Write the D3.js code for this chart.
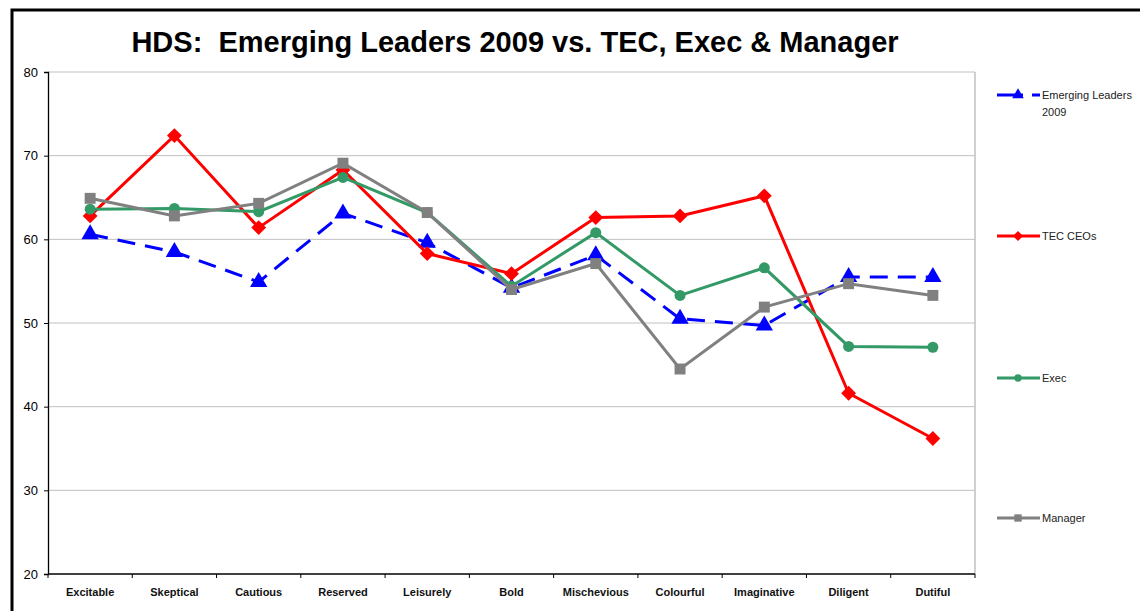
<!DOCTYPE html>
<html><head><meta charset="utf-8">
<script src="https://cdn.jsdelivr.net/npm/d3@7"></script>
<style>
body{margin:0;background:#fff;}
svg{display:block;font-family:"Liberation Sans",Arial,sans-serif;}
</style></head>
<body><svg id="c" width="1140" height="611"></svg>
<script>
const categories = ["Excitable","Skeptical","Cautious","Reserved","Leisurely","Bold","Mischevious","Colourful","Imaginative","Diligent","Dutiful"];
const emergingLeaders = [60.6,58.5,54.9,63.1,59.6,54.2,58.1,50.5,49.7,55.5,55.5];
const tecCEOs = [62.8,72.4,61.4,68.3,58.3,55.9,62.6,62.8,65.2,41.6,36.2];
const exec = [63.6,63.7,63.3,67.4,63.2,54.4,60.8,53.3,56.6,47.2,47.1];
const manager = [64.9,62.8,64.3,69.1,63.2,54.0,57.1,44.5,51.9,54.7,53.3];
const yTicks = [20,30,40,50,60,70,80];
const seriesNames = ["Emerging Leaders 2009","TEC CEOs","Exec","Manager"];

const svg = d3.select("#c");
svg.append("rect").attr("x",12).attr("y",10).attr("width",1140).attr("height",620)
  .attr("fill","none").attr("stroke","#000").attr("stroke-width",3);

const L=48, R=975, T=72, B=574;
const x = d3.scaleBand().domain(categories).range([L,R]);
const y = d3.scaleLinear().domain([20,80]).range([B,T]);

svg.append("g").selectAll("line").data(yTicks.filter(d=>d>20)).join("line")
  .attr("x1",L).attr("x2",R).attr("y1",d=>y(d)).attr("y2",d=>y(d))
  .attr("stroke","#c0c0c0").attr("stroke-width",1);
svg.append("line").attr("x1",R).attr("x2",R).attr("y1",T).attr("y2",B)
  .attr("stroke","#c0c0c0").attr("stroke-width",1.5);

const ya = svg.append("g").attr("transform",`translate(${L},0)`)
  .call(d3.axisLeft(y).tickValues(yTicks).tickSize(4).tickPadding(6));
ya.select(".domain").attr("stroke","#000").attr("stroke-width",1.3);
ya.selectAll("text").attr("font-size",13).attr("fill","#000").attr("font-family","Liberation Sans, Arial");

const xa = svg.append("g").attr("transform",`translate(0,${B})`)
  .call(d3.axisBottom(x).tickSize(0).tickPadding(14));
xa.select(".domain").remove();
svg.append("line").attr("x1",L).attr("x2",R).attr("y1",B).attr("y2",B).attr("stroke","#000").attr("stroke-width",1.3);
svg.append("g").selectAll("line").data(d3.range(categories.length+1)).join("line")
  .attr("x1",i=>L+i*x.step()).attr("x2",i=>L+i*x.step()).attr("y1",B).attr("y2",B+4)
  .attr("stroke","#000");
xa.selectAll("text").attr("font-size",11).attr("font-weight","bold").attr("fill","#111").attr("font-family","Liberation Sans, Arial");

svg.append("text").attr("x",515).attr("y",52).attr("text-anchor","middle")
  .attr("font-size",29).attr("font-weight","bold").attr("fill","#000")
  .style("white-space","pre")
  .text("HDS:  Emerging Leaders 2009 vs. TEC, Exec & Manager");

const diamond = {draw(ctx,size){const r=Math.sqrt(size/2);ctx.moveTo(0,-r);ctx.lineTo(r,0);ctx.lineTo(0,r);ctx.lineTo(-r,0);ctx.closePath();}};
const cx = d => x(d)+x.bandwidth()/2;
const series = [
  {name:seriesNames[0], vals:emergingLeaders, color:"#0000ff", dash:"18,10", sym:d3.symbolTriangle, size:130},
  {name:seriesNames[1], vals:tecCEOs, color:"#ff0000", dash:null, sym:diamond, size:110},
  {name:seriesNames[2], vals:exec, color:"#339966", dash:null, sym:d3.symbolCircle, size:95},
  {name:seriesNames[3], vals:manager, color:"#808080", dash:null, sym:d3.symbolSquare, size:120}
];
const line = d3.line().x((d,i)=>cx(categories[i])).y(d=>y(d));
series.forEach(s=>{
  svg.append("path").datum(s.vals).attr("d",line).attr("fill","none")
    .attr("stroke",s.color).attr("stroke-width",3).attr("stroke-dasharray",s.dash);
  svg.append("g").selectAll("path").data(s.vals).join("path")
    .attr("transform",(d,i)=>`translate(${cx(categories[i])},${y(d)})`)
    .attr("d",d3.symbol(s.sym,s.size)).attr("fill",s.color);
});

const legY = [95,236,378,518];
series.forEach((s,i)=>{
  const g = svg.append("g").attr("transform",`translate(997,${legY[i]})`);
  g.append("line").attr("x1",0).attr("x2",43).attr("y1",0).attr("y2",0)
    .attr("stroke",s.color).attr("stroke-width",3).attr("stroke-dasharray",s.dash?"26,9,8":null);
  g.append("path").attr("transform","translate(21,0)").attr("d",d3.symbol(s.sym,s.size*0.45)).attr("fill",s.color);
  const t = g.append("text").attr("x",45).attr("y",4).attr("font-size",11).attr("fill","#222");
  if(i===0){
    t.append("tspan").attr("x",45).text("Emerging Leaders");
    t.append("tspan").attr("x",45).attr("dy",17).text("2009");
  } else t.text(s.name);
});
</script></body></html>
